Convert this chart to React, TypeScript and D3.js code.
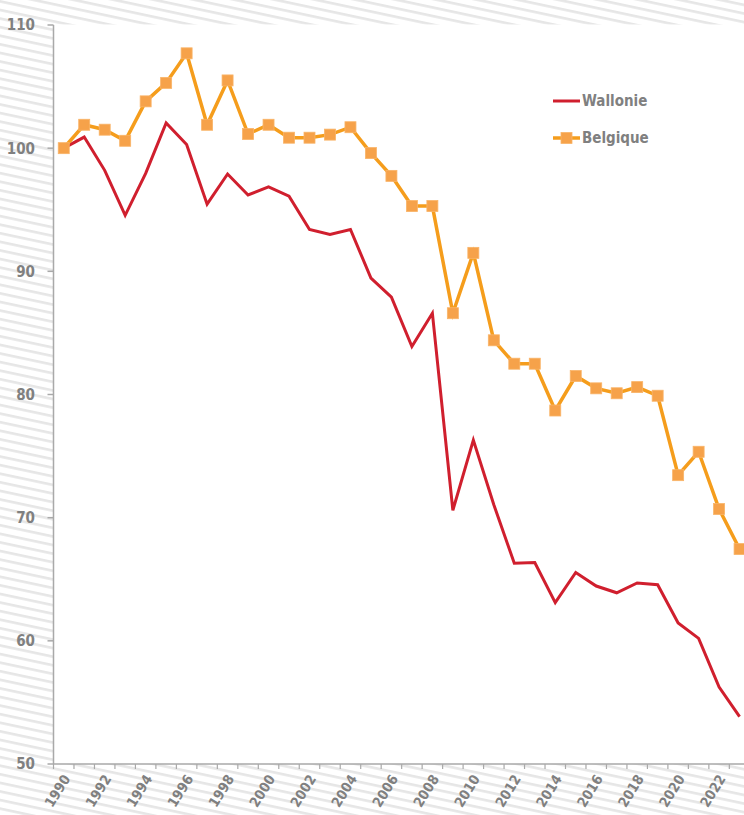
import React from 'react';
import * as d3 from 'd3';

const W = 744;
const H = 815;

const years = d3.range(1990, 2024).map(String);
const yTicks = [50, 60, 70, 80, 90, 100, 110];

const wallonie = [
  100.0, 100.9, 98.2, 94.55, 97.95, 102.05, 100.3, 95.45, 97.9, 96.2,
  96.85, 96.1, 93.4, 93.0, 93.4, 89.45, 87.9, 83.9, 86.6, 70.6,
  76.3, 71.05, 66.3, 66.35, 63.1, 65.55, 64.45, 63.9, 64.7, 64.55,
  61.45, 60.2, 56.25, 53.85,
];

const belgique = [
  100.0, 101.9, 101.5, 100.6, 103.8, 105.3, 107.7, 101.9, 105.5, 101.15,
  101.9, 100.85, 100.85, 101.1, 101.7, 99.6, 97.75, 95.3, 95.3, 86.6,
  91.5, 84.4, 82.5, 82.5, 78.7, 81.5, 80.5, 80.1, 80.6, 79.9,
  73.45, 75.35, 70.7, 67.45,
];

const series = [
  { name: 'Wallonie', values: wallonie, color: '#d01f2e', width: 3, marker: false },
  { name: 'Belgique', values: belgique, color: '#f59d1c', width: 3.5, marker: true },
];

const FONT = '"DejaVu Sans Condensed", "Liberation Sans Narrow", "DejaVu Sans", sans-serif';
const GREY = '#808080';
const AXIS = '#a9a9a9';

const PLOT = { left: 53.5, top: 24.5, bottom: 764 };
const STEP = 20.48;

export default function App() {
  const x = d3.scaleBand<string>()
    .domain(years)
    .range([PLOT.left, PLOT.left + STEP * years.length])
    .padding(0);
  const y = d3.scaleLinear().domain([50, 110]).range([PLOT.bottom, 25]);
  const cx = (yr: string) => x(yr)! + x.bandwidth() / 2;

  const line = d3.line<number>()
    .x((_, i) => cx(years[i]))
    .y(d => y(d));

  return (
    <div style={{ position: 'fixed', left: 0, top: 0, width: W, height: H, overflow: 'hidden', background: '#fff' }}>
      <svg width={W} height={H} style={{ display: 'block', fontFamily: FONT }}>
        <defs>
          <pattern id="stripes" patternUnits="userSpaceOnUse" width="40" height="8.4" patternTransform="rotate(12)">
            <rect width="40" height="8.4" fill="#ffffff" />
            <rect y="0" width="40" height="2.6" fill="#e6e6e6" />
          </pattern>
        </defs>
        <rect width={W} height={H} fill="url(#stripes)" />
        <rect x={PLOT.left} y={PLOT.top} width={W - PLOT.left + 10} height={PLOT.bottom - PLOT.top} fill="#ffffff" />

        {/* y axis */}
        <line x1={PLOT.left} x2={PLOT.left} y1={y(110)} y2={PLOT.bottom} stroke={AXIS} strokeWidth={1.5} />
        {yTicks.map(t => (
          <g key={t}>
            <line x1={PLOT.left - 6} x2={PLOT.left} y1={y(t)} y2={y(t)} stroke={AXIS} strokeWidth={1.5} />
            <text x={35} y={y(t)} dy="0.36em" textAnchor="end" fontSize={15} fontWeight="bold" fill={GREY}>
              {t}
            </text>
          </g>
        ))}

        {/* x axis */}
        <line x1={PLOT.left} x2={W + 10} y1={PLOT.bottom} y2={PLOT.bottom} stroke={AXIS} strokeWidth={1.5} />
        {years.map(yr => (
          <line key={'t' + yr} x1={x(yr)!} x2={x(yr)!} y1={PLOT.bottom} y2={PLOT.bottom + 5} stroke={AXIS} strokeWidth={1.2} />
        ))}
        {years.filter((_, i) => i % 2 === 0).map(yr => (
          <text
            key={'l' + yr}
            transform={`translate(${cx(yr) + 3},${PLOT.bottom + 12}) rotate(-58)`}
            textAnchor="end"
            dy="0.35em"
            fontSize={14}
            fontWeight="bold"
            fill={GREY}
          >
            {yr}
          </text>
        ))}

        {/* series */}
        {series.map(s => (
          <g key={s.name}>
            <path d={line(s.values)!} fill="none" stroke={s.color} strokeWidth={s.width} strokeLinejoin="miter" />
            {s.marker && s.values.map((v, i) => (
              <rect
                key={i}
                x={cx(years[i]) - 5.5}
                y={y(v) - 5.5}
                width={11}
                height={11}
                fill="#f6a24a"
                stroke="#f9b468"
                strokeWidth={0.8}
              />
            ))}
          </g>
        ))}

        {/* legend */}
        {series.map((s, i) => {
          const ly = 101 + i * 37;
          return (
            <g key={'lg' + s.name}>
              <line x1={553} x2={580} y1={ly} y2={ly} stroke={s.color} strokeWidth={s.width} />
              {s.marker && (
                <rect x={561} y={ly - 5.5} width={11} height={11} fill="#f6a24a" stroke="#f9b468" strokeWidth={0.8} />
              )}
              <text x={582} y={ly} dy="0.36em" fontSize={15} fontWeight="bold" fill={GREY}>
                {s.name}
              </text>
            </g>
          );
        })}
      </svg>
    </div>
  );
}
